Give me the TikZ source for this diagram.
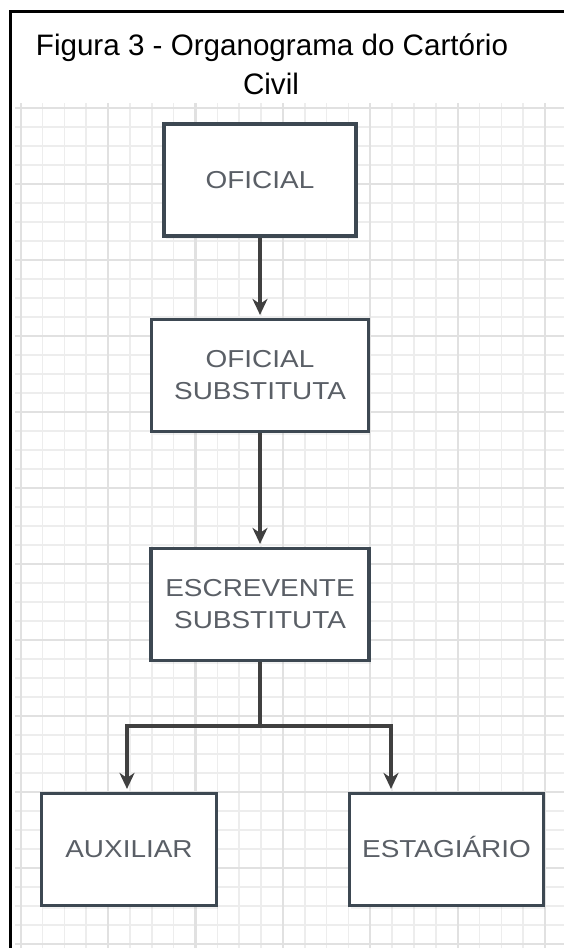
\documentclass[tikz,border=0pt]{standalone}
\usepackage{fontspec}
\setmainfont{Liberation Sans}
\newfontfamily\boxfont[FakeStretch=1.14]{Liberation Sans}
\usetikzlibrary{arrows.meta,shadows}
\definecolor{boxline}{HTML}{3D4852}
\definecolor{boxtext}{HTML}{5A5F66}
\definecolor{conn}{HTML}{404040}
\definecolor{gridminor}{HTML}{EDEDED}
\definecolor{gridmajor}{HTML}{E1E1E1}
\begin{document}
\begin{tikzpicture}[x=1pt,y=-1pt,
  orgbox/.style={draw=boxline, line width=3.2pt, fill=white, inner sep=0pt,
    align=center, text=boxtext, font=\boxfont\fontsize{24.5}{32}\selectfont,
    minimum height=112pt,
    drop shadow={shadow xshift=1.5pt, shadow yshift=-3pt, opacity=0.10}},
  conline/.style={draw=conn, line width=3.2pt},
  conarrow/.style={conline, -{Stealth[length=16pt,width=15pt,inset=5pt]}, shorten >=3pt},
  titlefont/.style={font=\fontsize{29.6}{36}\selectfont, text=black, inner sep=0pt, anchor=base},
  gridminorline/.style={draw=gridminor, line width=1.6pt},
  gridmajorline/.style={draw=gridmajor, line width=2.2pt},
  framestyle/.style={draw=black, line width=3pt, line join=miter}
]
\useasboundingbox (0,0) rectangle (564,948);
\fill[white] (0,0) rectangle (564,948);

% grid
\begin{scope}
  \clip (15,103) rectangle (564,948);
  \foreach \k in {0,...,24} {
    \pgfmathtruncatemacro{\m}{mod(\k,4)}
    \ifnum\m=0\else
      \draw[gridminorline] ({20.7+21.85*\k},103) -- ({20.7+21.85*\k},948);
    \fi
  }
  \foreach \k in {0,...,44} {
    \pgfmathtruncatemacro{\m}{mod(\k,4)}
    \ifnum\m=0\else
      \draw[gridminorline] (15,{108+19*\k}) -- (564,{108+19*\k});
    \fi
  }
  \foreach \k in {0,4,...,24} {
    \draw[gridmajorline] ({20.7+21.85*\k},103) -- ({20.7+21.85*\k},948);
  }
  \foreach \k in {0,4,...,44} {
    \draw[gridmajorline] (15,{108+19*\k}) -- (564,{108+19*\k});
  }
\end{scope}

% frame
\draw[framestyle] (10,948) -- (10,11) -- (564,11);

% title
\node[titlefont] (title1) at (272,55) {Figura 3 - Organograma do Cartório};
\node[titlefont] (title2) at (271,94) {Civil};

% boxes
\node[orgbox, minimum width=192pt] (b1) at (260,180) {OFICIAL};
\node[orgbox, minimum width=217pt] (b2) at (260,375.5) {OFICIAL\\SUBSTITUTA};
\node[orgbox, minimum width=218pt] (b3) at (260,604.5) {ESCREVENTE\\SUBSTITUTA};
\node[orgbox, minimum width=175pt] (b4) at (129,849.5) {AUXILIAR};
\node[orgbox, minimum width=194pt] (b5) at (446.5,849.5) {\vphantom{A}\smash{ESTAGIÁRIO}};

% connectors
\coordinate (j) at (260,726);
\coordinate (jl) at (127,726);
\coordinate (jr) at (391,726);
\draw[conarrow] (b1.south) -- (b2.north);
\draw[conarrow] (b2.south) -- (b3.north);
\draw[conline] (b3.south) -- (j);
\draw[conarrow] (j) -- (jl) -- (jl |- b4.north);
\draw[conarrow] (j) -- (jr) -- (jr |- b5.north);
\end{tikzpicture}
\end{document}
